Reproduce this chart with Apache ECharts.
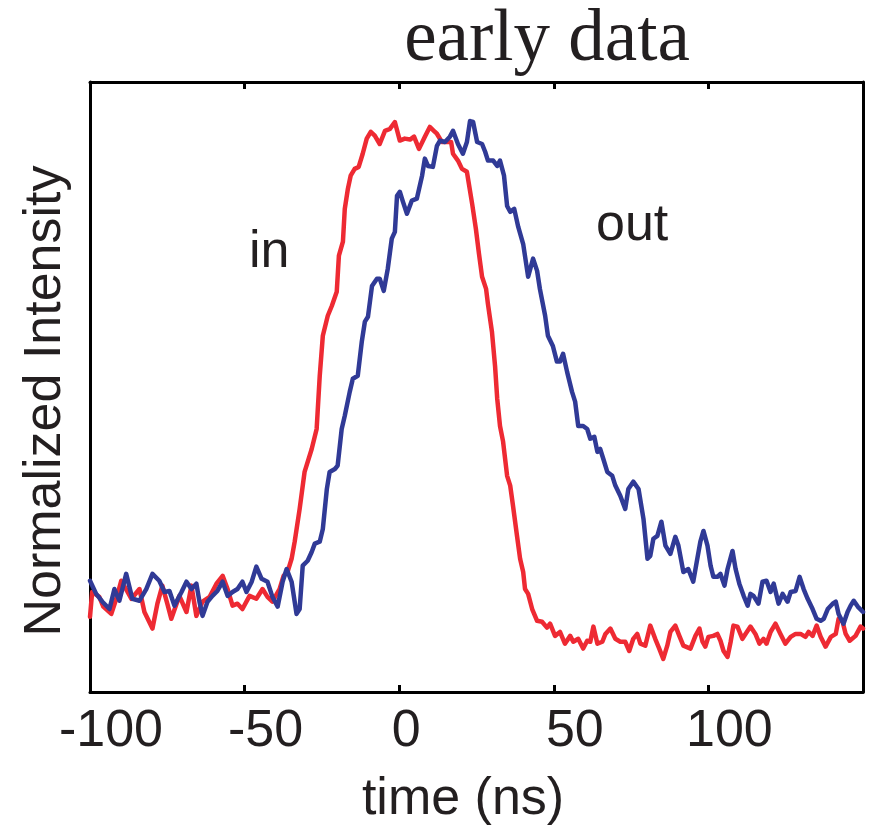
<!DOCTYPE html>
<html>
<head>
<meta charset="utf-8">
<script src="https://cdn.jsdelivr.net/npm/echarts@6/dist/echarts.min.js"></script>
<style>
html,body{margin:0;padding:0;background:#fff;}
#chart{width:869px;height:836px;}
</style>
</head>
<body>
<div id="chart"></div>
<script>
// time (ns) , normalized intensity — "in" pulse (red)
const inPulse = [
[-100,0.004],[-99.3,0.055],[-97.0,0.045],[-95.7,0.025],[-93.1,0.010],[-91.5,0.041],[-89.9,0.078],[-88.3,0.060],
[-86.6,0.041],[-84.0,0.061],[-82.4,0.014],[-79.8,-0.020],[-78.2,0.031],[-76.6,0.068],[-75.0,0.031],[-73.7,0.000],
[-71.1,0.047],[-68.8,0.014],[-67.2,0.068],[-65.6,0.006],[-63.6,0.035],[-61.3,0.045],[-59.1,0.072],[-57.1,0.088],
[-55.5,0.061],[-53.9,0.027],[-52.3,0.031],[-50.7,0.020],[-48.4,0.047],[-46.2,0.041],[-44.2,0.061],[-42.6,0.045],
[-41.0,0.035],[-38.7,0.061],[-37.4,0.088],[-36.1,0.096],[-34.8,0.123],[-33.8,0.158],[-32.2,0.225],[-30.6,0.301],
[-28.3,0.348],[-26.7,0.389],[-25.7,0.498],[-24.7,0.580],[-23.1,0.621],[-21.8,0.641],[-20.2,0.670],[-19.5,0.744],
[-18.2,0.773],[-17.6,0.840],[-16.6,0.881],[-15.7,0.908],[-14.4,0.922],[-13.1,0.926],[-11.8,0.953],[-10.5,0.984],
[-9.2,0.998],[-7.9,0.990],[-6.3,0.973],[-4.6,1.000],[-3.0,1.004],[-1.4,1.018],[0.2,0.980],[1.8,0.984],
[3.5,0.982],[4.8,0.988],[6.4,0.963],[8.3,0.988],[9.9,1.008],[11.2,1.000],[12.2,0.994],[13.8,0.977],
[15.8,0.977],[16.8,0.977],[17.4,0.953],[19.0,0.939],[20.3,0.922],[21.9,0.916],[23.6,0.850],[24.8,0.799],
[25.8,0.748],[26.8,0.701],[28.1,0.676],[28.7,0.645],[30.0,0.588],[31.0,0.518],[31.7,0.451],[32.6,0.395],
[33.6,0.363],[34.9,0.293],[35.9,0.273],[36.8,0.232],[38.1,0.170],[39.1,0.123],[40.1,0.096],[40.7,0.061],
[41.7,0.051],[43.0,0.020],[44.6,-0.004],[46.2,-0.006],[47.8,-0.018],[48.8,-0.010],[49.4,-0.014],[50.4,-0.035],
[52.0,-0.027],[53.6,-0.051],[55.3,-0.035],[56.3,-0.047],[57.9,-0.041],[59.5,-0.061],[60.8,-0.045],[61.8,-0.047],
[62.8,-0.016],[64.1,-0.051],[65.7,-0.047],[66.7,-0.031],[68.3,-0.020],[69.9,-0.041],[71.5,-0.047],[73.1,-0.047],
[74.4,-0.066],[75.7,-0.041],[77.0,-0.031],[78.0,-0.051],[79.6,-0.055],[81.2,-0.014],[82.8,-0.041],[84.1,-0.061],
[85.4,-0.082],[86.7,-0.055],[87.7,-0.027],[89.3,-0.014],[90.6,-0.035],[91.9,-0.055],[94.2,-0.061],[95.8,-0.035],
[97.1,-0.020],[98.1,-0.047],[99.0,-0.057],[100.0,-0.037],[101.6,-0.035],[102.9,-0.031],[103.9,-0.045],[104.9,-0.066],
[106.2,-0.078],[107.2,-0.047],[108.1,-0.014],[109.4,-0.016],[111.0,-0.041],[112.0,-0.031],[113.6,-0.016],[115.2,-0.031],
[116.5,-0.051],[117.8,-0.041],[118.8,-0.051],[120.1,-0.027],[121.7,-0.010],[123.3,-0.031],[124.9,-0.051],[126.6,-0.037],
[128.2,-0.031],[129.8,-0.031],[131.4,-0.037],[132.4,-0.027],[133.7,-0.035],[135.0,-0.014],[136.3,-0.037],[137.9,-0.057],
[139.6,-0.037],[141.2,-0.031],[142.1,0.000],[143.4,-0.006],[144.4,-0.031],[145.7,-0.045],[147.6,-0.035],[149.2,-0.016],
[150,-0.020]
];

// "out" pulse (blue)
const outPulse = [
[-100,0.078],[-98.0,0.051],[-96.0,0.035],[-93.7,0.020],[-92.1,0.061],[-90.5,0.037],[-88.3,0.092],[-86.3,0.041],
[-84.0,0.037],[-81.8,0.061],[-79.8,0.092],[-77.6,0.078],[-75.9,0.055],[-74.3,0.057],[-72.7,0.027],[-70.4,0.055],
[-68.8,0.076],[-67.2,0.061],[-65.6,0.072],[-64.6,0.035],[-63.6,0.006],[-62.0,0.035],[-60.4,0.047],[-58.8,0.057],
[-57.1,0.076],[-55.5,0.047],[-53.9,0.055],[-52.3,0.061],[-50.7,0.076],[-49.4,0.055],[-47.7,0.076],[-46.2,0.107],
[-44.5,0.082],[-42.6,0.076],[-41.0,0.045],[-39.3,0.025],[-37.7,0.076],[-36.4,0.102],[-34.8,0.076],[-33.2,0.010],
[-32.2,0.020],[-31.2,0.109],[-29.6,0.119],[-28.3,0.137],[-27.3,0.154],[-25.7,0.158],[-24.7,0.184],[-23.4,0.266],
[-22.5,0.301],[-20.8,0.307],[-19.9,0.314],[-18.6,0.389],[-17.6,0.416],[-16.0,0.465],[-15.0,0.492],[-13.4,0.498],
[-12.1,0.568],[-11.1,0.609],[-10.1,0.619],[-8.8,0.682],[-7.2,0.697],[-6.3,0.697],[-5.0,0.672],[-3.7,0.717],
[-2.4,0.779],[-1.4,0.793],[-0.7,0.867],[0.2,0.875],[1.2,0.855],[2.5,0.830],[4.1,0.857],[5.7,0.861],
[7.4,0.908],[8.3,0.943],[9.3,0.928],[10.9,0.926],[12.2,0.969],[13.2,0.980],[14.8,0.977],[16.4,0.988],
[17.4,1.000],[19.0,0.973],[20.6,0.953],[21.9,0.977],[22.9,1.020],[23.9,1.018],[25.2,0.977],[26.8,0.973],
[27.8,0.957],[28.7,0.939],[30.4,0.939],[31.7,0.928],[32.6,0.939],[33.9,0.908],[34.9,0.846],[35.9,0.834],
[37.2,0.840],[38.5,0.803],[40.1,0.768],[41.7,0.701],[43.3,0.738],[44.6,0.713],[45.5,0.676],[47.2,0.621],
[48.1,0.580],[49.7,0.559],[51.0,0.527],[52.0,0.527],[53.0,0.543],[54.3,0.506],[55.9,0.465],[56.9,0.445],
[57.9,0.395],[59.5,0.395],[60.8,0.389],[61.8,0.369],[63.1,0.373],[64.1,0.342],[65.0,0.348],[66.0,0.328],
[67.3,0.301],[68.9,0.293],[69.9,0.273],[71.5,0.252],[73.1,0.225],[74.1,0.266],[75.7,0.281],[77.4,0.266],
[79.0,0.205],[80.3,0.123],[81.2,0.129],[82.2,0.164],[83.5,0.170],[84.8,0.199],[86.1,0.150],[87.7,0.133],
[89.3,0.168],[90.3,0.150],[91.9,0.096],[93.5,0.102],[95.1,0.076],[96.4,0.123],[97.4,0.158],[98.4,0.180],
[99.7,0.150],[100.7,0.109],[101.6,0.086],[102.9,0.086],[103.9,0.092],[105.2,0.068],[106.2,0.102],[107.8,0.139],
[108.8,0.102],[110.0,0.072],[111.4,0.047],[112.7,0.027],[113.6,0.051],[114.6,0.047],[116.2,0.031],[117.5,0.076],
[118.8,0.078],[120.1,0.055],[121.1,0.072],[122.7,0.031],[124.0,0.051],[125.6,0.035],[126.6,0.055],[128.2,0.057],
[129.5,0.086],[130.8,0.061],[132.1,0.041],[133.7,0.020],[135.0,0.000],[136.3,-0.004],[137.3,0.000],[138.6,0.020],
[140.2,0.031],[141.2,0.035],[142.1,0.010],[143.7,-0.010],[145.0,0.014],[146.0,0.027],[147.0,0.037],[148.3,0.025],
[150,0.014]
];

const xTicks = [-100, -50, 0, 50, 100];
const titleText = 'early data';
const xName = 'time (ns)';
const yName = 'Normalized Intensity';
const inLabel = 'in';
const outLabel = 'out';

const RED = '#ee2a33';
const BLUE = '#303a96';
const INK = '#231f20';
const SANS = '"Liberation Sans", Arial, sans-serif';
const SERIF = '"Liberation Serif", "Times New Roman", serif';

const chart = echarts.init(document.getElementById('chart'), null, {renderer: 'canvas'});

const xCommon = {
  type: 'value', min: -100, max: 150, interval: 50,
  splitLine: {show: false},
  axisLine: {show: true, onZero: false, lineStyle: {color: '#000', width: 3}},
  axisTick: {show: true, inside: true, length: 7, lineStyle: {color: '#000', width: 3}}
};

chart.setOption({
  animation: false,
  backgroundColor: '#fff',
  grid: {left: 90, right: 6, top: 82, bottom: 144, containLabel: false},
  xAxis: [
    Object.assign({}, xCommon, {
      position: 'bottom',
      axisLabel: {
        show: true, margin: 14, color: INK, fontFamily: SANS, fontSize: 52,
        showMaxLabel: false,
        formatter: function (v) {
          if (xTicks.indexOf(v) < 0) return '';
          return v === 0 ? '{z|0}' : '{n|' + v + '}';
        },
        rich: {
          n: {padding: [0, 0, 0, 42], color: INK, fontFamily: SANS, fontSize: 52},
          z: {padding: [0, 0, 0, 14], color: INK, fontFamily: SANS, fontSize: 52}
        }
      }
    }),
    Object.assign({}, xCommon, {position: 'top', axisLabel: {show: false}})
  ],
  yAxis: [
    {type: 'value', min: -0.15, max: 1.1, position: 'left',
     splitLine: {show: false}, axisTick: {show: false}, axisLabel: {show: false},
     axisLine: {show: true, onZero: false, lineStyle: {color: '#000', width: 3}}},
    {type: 'value', min: -0.15, max: 1.1, position: 'right',
     splitLine: {show: false}, axisTick: {show: false}, axisLabel: {show: false},
     axisLine: {show: true, onZero: false, lineStyle: {color: '#000', width: 3}}}
  ],
  series: [
    {name: 'in', type: 'line', xAxisIndex: 0, yAxisIndex: 0, data: inPulse,
     showSymbol: false, symbol: 'none', smooth: false, clip: true,
     lineStyle: {color: RED, width: 4.5, join: 'round', cap: 'round'}, z: 2},
    {name: 'out', type: 'line', xAxisIndex: 0, yAxisIndex: 0, data: outPulse,
     showSymbol: false, symbol: 'none', smooth: false, clip: true,
     lineStyle: {color: BLUE, width: 4.5, join: 'round', cap: 'round'}, z: 3}
  ],
  graphic: [
    {type: 'text', x: 547, y: 41, style: {text: titleText, font: '73px ' + SERIF, fill: INK, textAlign: 'center', textVerticalAlign: 'middle'}},
    {type: 'text', x: 463, y: 800, style: {text: xName, font: '52px ' + SANS, fill: INK, textAlign: 'center', textVerticalAlign: 'middle'}},
    {type: 'text', x: 46, y: 401, rotation: Math.PI / 2, style: {text: yName, font: '52px ' + SANS, fill: INK, textAlign: 'center', textVerticalAlign: 'middle'}},
    {type: 'text', x: 249, y: 253, style: {text: inLabel, font: '52px ' + SANS, fill: INK, textAlign: 'left', textVerticalAlign: 'middle'}},
    {type: 'text', x: 596, y: 226, style: {text: outLabel, font: '52px ' + SANS, fill: INK, textAlign: 'left', textVerticalAlign: 'middle'}}
  ]
});
</script>
</body>
</html>
